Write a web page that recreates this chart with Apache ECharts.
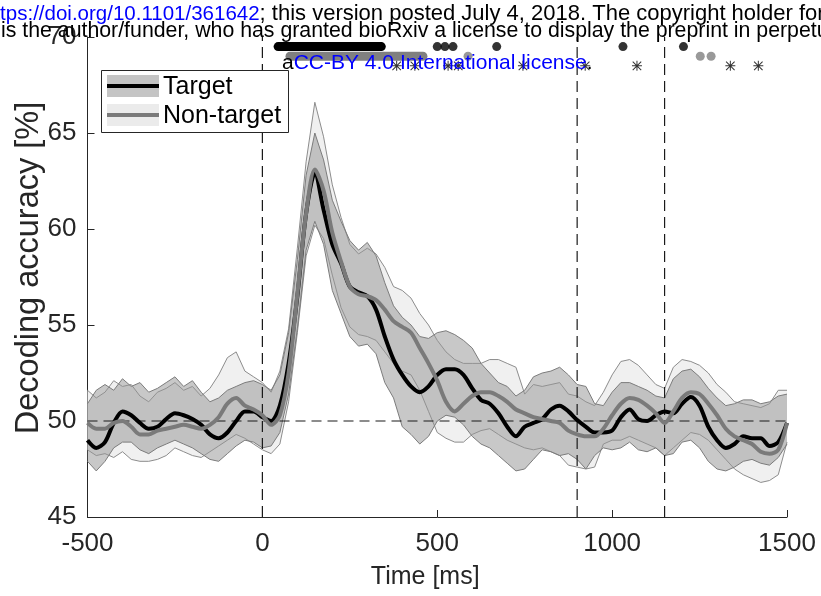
<!DOCTYPE html>
<html>
<head>
<meta charset="utf-8">
<script src="https://cdn.jsdelivr.net/npm/echarts@6/dist/echarts.min.js"></script>
<style>html,body{margin:0;padding:0;background:#fff}#c{width:821px;height:596px}</style>
</head>
<body>
<div id="c"></div>
<script>
// ---- data ----
const times = [-500,-475,-450,-425,-400,-375,-350,-325,-300,-275,-250,-225,-200,-175,-150,-125,-100,-75,-50,-25,0,25,50,75,100,125,150,175,200,225,250,275,300,325,350,375,400,425,450,475,500,525,550,575,600,625,650,675,700,725,750,775,800,825,850,875,900,925,950,975,1000,1025,1050,1075,1100,1125,1150,1175,1200,1225,1250,1275,1300,1325,1350,1375,1400,1425,1450,1475,1500];

const targetMean = [49.0,48.6,48.9,49.9,50.5,50.3,49.9,49.6,49.7,50.1,50.4,50.3,50.1,49.8,49.3,49.1,49.4,50.0,50.5,50.5,50.2,50.0,50.8,53.0,56.5,60.8,62.9,61.0,59.2,58.2,57.0,56.7,56.5,55.8,54.4,53.2,52.4,51.8,51.5,51.8,52.4,52.7,52.7,52.4,51.7,51.1,50.9,50.4,49.7,49.2,49.7,49.9,50.1,50.6,50.8,50.5,50.05,49.7,49.4,49.4,49.5,50.2,50.6,50.1,50.0,50.3,50.5,50.4,50.9,51.25,50.8,49.7,49.0,48.6,48.8,49.2,49.1,49.1,48.7,48.9,49.9];
const targetUpper = [50.9,51.6,51.9,51.6,52.2,51.8,52.0,51.5,51.7,52.0,52.3,51.8,52.1,51.5,51.0,51.2,51.6,51.8,52.0,52.1,51.9,51.6,52.4,54.6,58.4,62.8,65.0,63.6,61.5,60.4,59.4,58.9,59.3,58.6,57.2,56.0,55.4,55.0,54.4,54.3,54.6,54.7,54.5,54.2,53.8,53.0,52.5,52.0,51.8,51.3,51.6,52.3,52.5,52.6,52.8,52.4,51.9,51.8,50.9,50.8,51.5,52.0,52.0,51.8,51.6,51.3,51.2,52.2,52.6,52.7,52.3,51.7,51.2,50.8,50.9,51.1,51.1,50.9,51.0,51.3,51.4];
const targetLower = [47.9,47.4,47.9,48.6,48.9,48.9,48.5,48.3,48.6,48.8,49.0,48.8,48.6,48.3,48.0,47.9,48.3,48.7,49.0,48.9,48.6,48.7,49.4,51.4,54.8,58.9,60.4,59.2,56.8,55.6,54.4,53.9,54.0,53.5,52.0,51.2,49.7,49.3,48.8,49.2,50.0,50.3,50.2,49.8,49.2,48.8,48.6,48.2,47.8,47.4,47.5,48.0,48.5,48.4,48.2,48.3,48.0,47.5,48.2,48.6,48.5,48.6,48.9,48.5,48.4,48.6,48.2,48.3,48.9,49.0,48.6,47.9,47.5,47.4,47.6,47.9,48.0,47.8,47.7,48.1,48.8];

const nonTargetMean = [49.9,49.6,49.6,49.9,50.0,49.7,49.3,49.3,49.5,49.6,49.7,49.8,49.7,49.6,49.8,50.2,50.9,51.2,50.8,50.6,50.3,49.8,50.3,52.5,56.6,60.8,63.1,62.0,59.8,58.3,57.0,56.6,56.5,56.3,55.8,55.2,54.9,54.6,53.8,53.0,52.1,51.0,50.5,50.9,51.3,51.5,51.5,51.3,51.0,50.6,50.4,50.2,50.1,50.0,49.9,49.5,49.3,49.2,49.2,49.6,50.3,50.9,51.2,51.1,50.8,50.4,49.9,50.5,51.2,51.5,51.4,50.9,50.3,49.6,49.2,49.0,48.8,48.4,48.3,48.5,49.9];
const nonTargetUpper = [51.6,51.2,51.5,52.1,51.8,51.9,51.3,51.0,51.5,51.7,52.0,51.6,51.8,51.3,51.7,52.4,53.3,53.6,52.6,52.3,52.0,51.5,52.6,54.8,59.0,63.5,66.6,64.8,62.3,60.6,59.2,58.7,59.0,58.7,58.0,57.0,56.8,56.4,55.6,55.0,54.2,53.6,53.2,53.0,53.0,53.0,53.2,53.2,53.0,52.8,51.4,51.9,51.8,51.9,52.0,51.4,51.3,51.0,50.8,51.5,52.4,53.1,53.2,52.9,52.4,51.9,51.7,52.8,53.2,53.1,52.9,52.5,51.9,51.5,51.0,50.9,50.8,50.7,50.9,51.6,51.6];
const nonTargetLower = [48.5,48.2,48.3,48.1,48.4,48.0,47.9,47.9,48.0,48.2,48.6,48.4,48.2,48.1,48.4,48.7,49.0,49.3,49.1,48.8,48.5,48.3,48.8,51.0,54.6,58.6,60.2,59.5,57.6,55.9,54.9,54.5,54.4,54.2,53.6,53.0,52.6,52.4,51.6,50.5,49.4,49.1,48.9,48.9,49.3,49.5,49.6,49.3,49.0,48.8,48.6,48.5,48.6,48.4,48.2,47.7,47.6,47.5,47.6,48.8,49.0,49.0,49.2,49.0,48.8,48.6,48.2,48.6,49.0,49.4,49.3,49.0,48.5,48.0,47.5,47.2,47.0,46.8,46.9,47.2,48.9];

// significance markers (time in ms)
const sigTargetRanges = [[45, 340]];
const sigTargetPoints = [500, 522, 545, 670, 1031, 1204];
const sigNonTargetRanges = [[79, 459]];
const sigNonTargetPoints = [588, 1252, 1283];
const sigDiffPoints = [384, 436, 531, 560, 745, 923, 1071, 1338, 1418];
const sigRowTarget = 69.5, sigRowNonTarget = 69.0, sigRowDiff = 68.5;

const eventTimes = [0, 900, 1150];
const chanceLevel = 50;
const xTicks = [-500, 0, 500, 1000, 1500];
const yTicks = [45, 50, 55, 60, 65, 70];

// ---- build ----
const FONT = "'Liberation Sans', Arial, Helvetica, sans-serif";
const pair = (arr) => times.map((t, i) => [t, arr[i]]);

function bandSeries(lo, hi, fill, z) {
  return {
    type:'custom', silent:true, z:z, clip:true,
    data: times.map((t, i) => [t, lo[i], hi[i]]),
    encode:{x:0, y:[1,2]},
    renderItem: function (params, api) {
      if (params.dataIndex !== 0) return null;
      const pts = [];
      for (let i = 0; i < times.length; i++) pts.push(api.coord([times[i], hi[i]]));
      for (let i = times.length - 1; i >= 0; i--) pts.push(api.coord([times[i], lo[i]]));
      return {type:'polygon', shape:{points:pts}, style:{fill:fill}};
    }
  };
}
const edge = (arr, color, z) => ({type:'line', data: pair(arr), symbol:'none', silent:true, z:z,
  lineStyle:{color:color, width:1}});

const series = [];
series.push(bandSeries(nonTargetLower, nonTargetUpper, 'rgba(240,240,240,1)', 1));
series.push(edge(nonTargetLower, '#8c8c8c', 1));
series.push(edge(nonTargetUpper, '#8c8c8c', 1));
series.push(bandSeries(targetLower, targetUpper, 'rgba(150,150,150,0.52)', 2));
series.push(edge(targetLower, '#7c7c7c', 2));
series.push(edge(targetUpper, '#7c7c7c', 2));
series.push({type:'line', data: [[xTicks[0], chanceLevel], [xTicks[xTicks.length-1], chanceLevel]], symbol:'none', silent:true, z:3,
  lineStyle:{color:'#1a1a1a', width:1.2, type:[10,6]}});
eventTimes.forEach(e => series.push({type:'line', data: [[e, yTicks[0]], [e, yTicks[yTicks.length-1]]], symbol:'none', silent:true, z:3,
  lineStyle:{color:'#1a1a1a', width:1.2, type:[11,6]}}));
series.push({type:'line', name:'Target', data: pair(targetMean), symbol:'none', silent:true, z:4, smooth:0.3,
  lineStyle:{color:'#000000', width:4}});
series.push({type:'line', name:'Non-target', data: pair(nonTargetMean), symbol:'none', silent:true, z:5, smooth:0.3,
  lineStyle:{color:'#7a7a7a', width:4}});
sigTargetRanges.forEach(r => series.push({type:'line', data: [[r[0], sigRowTarget],[r[1], sigRowTarget]], symbol:'none', silent:true, z:6,
  lineStyle:{color:'#000', width:9, cap:'round'}}));
series.push({type:'scatter', data: sigTargetPoints.map(t => [t, sigRowTarget]), symbol:'circle', symbolSize:9, silent:true, z:6,
  itemStyle:{color:'#000'}});
sigNonTargetRanges.forEach(r => series.push({type:'line', data: [[r[0], sigRowNonTarget],[r[1], sigRowNonTarget]], symbol:'none', silent:true, z:6,
  lineStyle:{color:'#808080', width:9, cap:'round'}}));
series.push({type:'scatter', data: sigNonTargetPoints.map(t => [t, sigRowNonTarget]), symbol:'circle', symbolSize:9, silent:true, z:6,
  itemStyle:{color:'#808080'}});
series.push({type:'scatter', data: sigDiffPoints.map(t => [t, sigRowDiff]), silent:true, z:6, symbolSize:10,
  symbol:'path://M9,0L11,0L11,20L9,20Z M0,9L20,9L20,11L0,11Z M2.2,0.8L19.2,17.8L17.8,19.2L0.8,2.2Z M17.8,0.8L19.2,2.2L2.2,19.2L0.8,17.8Z',
  itemStyle:{color:'#000'}});

const chart = echarts.init(document.getElementById('c'), null, {renderer:'canvas'});
chart.setOption({
  animation:false,
  backgroundColor:'#ffffff',
  grid:{left:87.5, right:34, top:37, bottom:79, containLabel:false, outerBoundsMode:'none'},
  xAxis:{type:'value', min:xTicks[0], max:xTicks[xTicks.length-1], interval:500,
    name:'Time [ms]', nameLocation:'middle', nameGap:48,
    nameTextStyle:{fontFamily:FONT, fontSize:25, color:'#262626', padding:[0,24,0,0]},
    axisLine:{show:true, onZero:false, lineStyle:{color:'#262626', width:1}},
    axisTick:{show:true, inside:true, length:7, lineStyle:{color:'#262626'}},
    axisLabel:{fontFamily:FONT, fontSize:26, color:'#262626', margin:14, formatter: v => String(v)},
    splitLine:{show:false}},
  yAxis:{type:'value', min:yTicks[0], max:yTicks[yTicks.length-1], interval:5,
    name:'Decoding accuracy [%]', nameLocation:'middle', nameGap:42, nameMoveOverlap:false,
    nameTextStyle:{fontFamily:FONT, fontSize:32.5, color:'#262626', padding:[0,0,0,18]},
    axisLine:{show:true, onZero:false, lineStyle:{color:'#262626', width:1}},
    axisTick:{show:true, inside:true, length:7, lineStyle:{color:'#262626'}},
    axisLabel:{fontFamily:FONT, fontSize:26, color:'#262626', margin:11, formatter: v => String(v)},
    splitLine:{show:false}},
  series: series,
  graphic:[
    {type:'rect', z:100, shape:{x:101.5, y:70.5, width:187, height:62}, style:{fill:'#fff', stroke:'#262626', lineWidth:1}},
    {type:'rect', z:101, shape:{x:107, y:75, width:52, height:22}, style:{fill:'#c4c4c4'}},
    {type:'line', z:102, shape:{x1:107, y1:86, x2:159, y2:86}, style:{stroke:'#000', lineWidth:4}},
    {type:'rect', z:101, shape:{x:107, y:104, width:52, height:22}, style:{fill:'#ebebeb'}},
    {type:'line', z:102, shape:{x1:107, y1:115, x2:159, y2:115}, style:{stroke:'#7a7a7a', lineWidth:4}},
    {type:'text', z:102, style:{x:163, y:87, text:'Target', fontFamily:FONT, fontSize:25, fill:'#000', verticalAlign:'middle'}},
    {type:'text', z:102, style:{x:163, y:116, text:'Non-target', fontFamily:FONT, fontSize:25, fill:'#000', verticalAlign:'middle'}},
    {type:'text', z:200, style:{x:-17, y:14, text:'{b|https://doi.org/10.1101/361642}{r|; this version posted July 4, 2018. The copyright holder for this preprint}',
      fontFamily:FONT, fontSize:21, fill:'#000', verticalAlign:'middle',
      rich:{b:{fill:'#0000ff', fontFamily:FONT, fontSize:20.5}, r:{fill:'#000', fontFamily:FONT, fontSize:22}}}},
    {type:'text', z:200, style:{x:1, y:31, text:'is the author/funder, who has granted bioRxiv a license to display the preprint in perpetuity.',
      fontFamily:FONT, fontSize:21.3, fill:'#000', verticalAlign:'middle'}},
    {type:'text', z:200, style:{x:282, y:63, text:'a{b|CC-BY 4.0 International license}.',
      fontFamily:FONT, fontSize:21, fill:'#000', verticalAlign:'middle', rich:{b:{fill:'#0000ff', fontFamily:FONT, fontSize:21}}}}
  ]
});
</script>
</body>
</html>
